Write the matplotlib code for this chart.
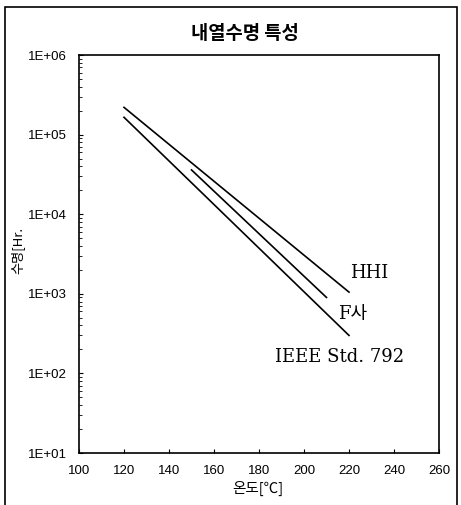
import matplotlib
matplotlib.use("Agg")
import matplotlib.pyplot as plt
from matplotlib.patches import Rectangle
from matplotlib.ticker import LogLocator, NullFormatter

plt.rcParams['font.family'] = ['Liberation Sans', 'Noto Sans CJK KR']

# Data (temperature in C, life in hours)
hhi_temp = [120, 220]
hhi_life = [2.2e5, 1.05e3]
f_temp = [150, 210]
f_life = [3.6e4, 9.0e2]
ieee_temp = [120, 220]
ieee_life = [1.65e5, 3.0e2]

x_ticks = [100, 120, 140, 160, 180, 200, 220, 240, 260]
y_ticks = [1e1, 1e2, 1e3, 1e4, 1e5, 1e6]
y_tick_labels = ['1E+01', '1E+02', '1E+03', '1E+04', '1E+05', '1E+06']

title = '내열수명 특성'
x_label = '온도[℃]'
y_label = '수명[Hr.'
series_labels = ['HHI', 'F사', 'IEEE Std. 792']

fig = plt.figure(figsize=(4.61, 5.05), dpi=100)
ax = fig.add_axes([79/461, 1-453/505, (439-79)/461, (453-55)/505])

for t, l in [(hhi_temp, hhi_life), (f_temp, f_life), (ieee_temp, ieee_life)]:
    ax.plot(t, l, color='black', lw=1.2)

ax.set_yscale('log')
ax.set_xlim(100, 260)
ax.set_ylim(1e1, 1e6)
ax.set_xticks(x_ticks)
ax.set_xticklabels([str(v) for v in x_ticks], fontsize=9.5)
ax.set_yticks(y_ticks)
ax.set_yticklabels(y_tick_labels, fontsize=9.5)
ax.yaxis.set_minor_locator(LogLocator(base=10, subs=range(2, 10)))
ax.yaxis.set_minor_formatter(NullFormatter())
ax.tick_params(axis='x', which='major', direction='in', length=3, width=0.8, pad=9)
ax.tick_params(axis='y', which='major', direction='in', length=3, width=0.8, pad=8.5)
ax.tick_params(axis='y', which='minor', direction='in', length=2, width=0.6)
for s in ax.spines.values():
    s.set_linewidth(1.2)

serif = ['DejaVu Serif', 'Noto Sans CJK KR']
ax.text(220.3, 10**3.26, series_labels[0], family=serif, fontsize=13, ha='left', va='center')
ax.text(215, 10**2.75, series_labels[1], family=serif, fontsize=13, ha='left', va='center')
ax.text(187.3, 10**2.21, series_labels[2], family=serif, fontsize=13, ha='left', va='center')

fig.text(245/461, 1-33/505, title, fontsize=13.5, fontweight='bold', ha='center', va='center',
         family=['Noto Sans CJK KR'])
fig.text(258/461, 1-488/505, x_label, fontsize=10.5, ha='center', va='center',
         family=['Noto Sans CJK KR', 'DejaVu Sans'])
fig.text(17/461, 1-250/505, y_label, fontsize=9.5, ha='center', va='center', rotation=90,
         family=['Noto Sans CJK KR', 'DejaVu Sans'])

fig.patches.append(Rectangle((5/461, -0.05), (457-5)/461, 1.05 - 7/505, transform=fig.transFigure,
                             fill=False, edgecolor='black', lw=1.2))

fig.savefig('out.png', dpi=100)
